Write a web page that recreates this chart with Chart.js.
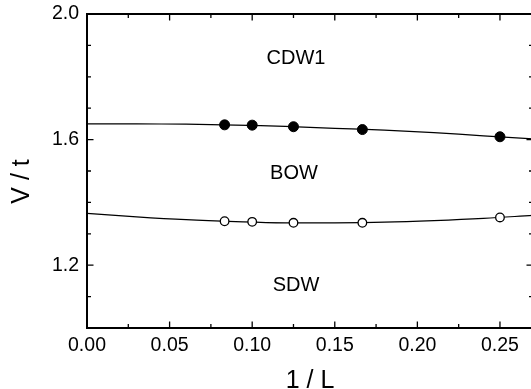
<!DOCTYPE html>
<html lang="en">
<head>
    <meta charset="UTF-8">
    <title>Phase diagram V/t vs 1/L</title>
    <script src="https://cdn.jsdelivr.net/npm/chart.js"></script>
    <style>
        body {
            margin: 0;
            padding: 0;
            background: #ffffff;
            overflow: hidden;
        }

        #phaseChart {
            display: block;
        }
    </style>
</head>
<body>
    <canvas id="phaseChart" width="545" height="389"></canvas>

    <script>
        // 1/L values of the computed system sizes
        const invL = [0.0833, 0.1, 0.125, 0.1667, 0.25];
        // CDW1 / BOW boundary (filled circles)
        const cdwBow = [1.647, 1.646, 1.641, 1.632, 1.609];
        // BOW / SDW boundary (open circles)
        const bowSdw = [1.340, 1.338, 1.335, 1.335, 1.352];

        // fitted curves
        const fitX = [0, 0.03, 0.06, 0.09, 0.12, 0.15, 0.18, 0.21, 0.24, 0.27];
        const fitUpper = [1.650, 1.650, 1.649, 1.646, 1.642, 1.636, 1.630, 1.622, 1.612, 1.602];
        const fitLower = [1.365, 1.354, 1.345, 1.339, 1.335, 1.335, 1.337, 1.342, 1.349, 1.359];

        // axis ticks
        const xTickLabels = [0, 0.05, 0.10, 0.15, 0.20, 0.25];
        const xMinorTicks = [0.025, 0.075, 0.125, 0.175, 0.225];
        const yTickLabels = [1.2, 1.6, 2.0];
        const yMinorTicks = [1.1, 1.3, 1.4, 1.5, 1.7, 1.8, 1.9];

        // phase labels
        const phaseNames = ["CDW1", "BOW", "SDW"];
        const phaseX = [0.1265, 0.1253, 0.1265];
        const phaseY = [1.857, 1.493, 1.134];

        const FONT = "'Liberation Sans', Arial, sans-serif";

        function toPoints(xs, ys) {
            return xs.map((x, i) => ({ x: x, y: ys[i] }));
        }

        // frame, inward ticks on all four sides and the phase names
        const framePlugin = {
            id: "frame",
            afterDraw(chart) {
                const ctx = chart.ctx;
                const area = chart.chartArea;
                const xs = chart.scales.x;
                const ys = chart.scales.y;

                ctx.save();
                ctx.strokeStyle = "#000";
                ctx.lineWidth = 1.3;
                ctx.beginPath();
                function xTick(v, len) {
                    const px = xs.getPixelForValue(v);
                    ctx.moveTo(px, area.bottom);
                    ctx.lineTo(px, area.bottom - len);
                    ctx.moveTo(px, area.top);
                    ctx.lineTo(px, area.top + len);
                }
                function yTick(v, len) {
                    const py = ys.getPixelForValue(v);
                    ctx.moveTo(area.left, py);
                    ctx.lineTo(area.left + len, py);
                    ctx.moveTo(area.right, py);
                    ctx.lineTo(area.right - len, py);
                }
                xTickLabels.forEach(v => xTick(v, 6.5));
                xMinorTicks.forEach(v => xTick(v, 4));
                yTickLabels.forEach(v => yTick(v, 6.5));
                yMinorTicks.forEach(v => yTick(v, 4));
                ctx.stroke();

                ctx.lineWidth = 2;
                ctx.strokeRect(area.left, area.top, area.right - area.left, area.bottom - area.top);

                ctx.fillStyle = "#000";
                ctx.font = "20px " + FONT;
                ctx.textAlign = "center";
                ctx.textBaseline = "middle";
                phaseNames.forEach((name, i) => {
                    ctx.fillText(name, xs.getPixelForValue(phaseX[i]), ys.getPixelForValue(phaseY[i]));
                });
                ctx.restore();
            }
        };

        const ctx = document.getElementById("phaseChart").getContext("2d");

        new Chart(ctx, {
            type: "scatter",
            data: {
                datasets: [
                    {
                        label: "CDW1-BOW",
                        data: toPoints(invL, cdwBow),
                        pointRadius: 5,
                        pointBackgroundColor: "#000",
                        pointBorderColor: "#000",
                        pointBorderWidth: 1,
                        showLine: false
                    },
                    {
                        label: "BOW-SDW",
                        data: toPoints(invL, bowSdw),
                        pointRadius: 4.3,
                        pointBackgroundColor: "#fff",
                        pointBorderColor: "#000",
                        pointBorderWidth: 1.3,
                        showLine: false
                    },
                    {
                        label: "fit upper",
                        data: toPoints(fitX, fitUpper),
                        showLine: true,
                        pointRadius: 0,
                        borderColor: "#000",
                        borderWidth: 1.2,
                        tension: 0.4
                    },
                    {
                        label: "fit lower",
                        data: toPoints(fitX, fitLower),
                        showLine: true,
                        pointRadius: 0,
                        borderColor: "#000",
                        borderWidth: 1.2,
                        tension: 0.4
                    }
                ]
            },
            options: {
                responsive: false,
                animation: false,
                devicePixelRatio: 1,
                layout: {
                    padding: { top: 14, right: 12, bottom: 0, left: 0 }
                },
                plugins: {
                    legend: { display: false },
                    tooltip: { enabled: false }
                },
                scales: {
                    x: {
                        type: "linear",
                        min: 0,
                        max: 0.27,
                        afterBuildTicks: scale => {
                            scale.ticks = xTickLabels.map(v => ({ value: v }));
                        },
                        afterFit: scale => {
                            scale.height = 61;
                            scale.paddingLeft = 0;
                            scale.paddingRight = 0;
                        },
                        grid: { display: false, drawTicks: false },
                        border: { display: false },
                        ticks: {
                            padding: 6,
                            color: "#000",
                            font: { family: FONT, size: 19.5 },
                            maxRotation: 0,
                            callback: v => v.toFixed(2)
                        },
                        title: {
                            display: true,
                            text: "1 / L",
                            color: "#000",
                            font: { family: FONT, size: 25, lineHeight: 0.6 },
                            padding: 0
                        }
                    },
                    y: {
                        type: "linear",
                        min: 1.0,
                        max: 2.0,
                        afterBuildTicks: scale => {
                            scale.ticks = yTickLabels.map(v => ({ value: v }));
                        },
                        afterFit: scale => {
                            scale.width = 87;
                            scale.paddingTop = 0;
                            scale.paddingBottom = 0;
                        },
                        grid: { display: false, drawTicks: false },
                        border: { display: false },
                        ticks: {
                            padding: 8,
                            color: "#000",
                            font: { family: FONT, size: 19.5 },
                            callback: v => v.toFixed(1)
                        },
                        title: {
                            display: true,
                            // trailing no-break spaces nudge the title a little lower, as in the original
                            text: "V / t\u00a0\u00a0\u00a0",
                            color: "#000",
                            font: { family: FONT, size: 25, lineHeight: 1 },
                            padding: { top: 10, bottom: 0 }
                        }
                    }
                }
            },
            plugins: [framePlugin]
        });
    </script>
</body>
</html>
